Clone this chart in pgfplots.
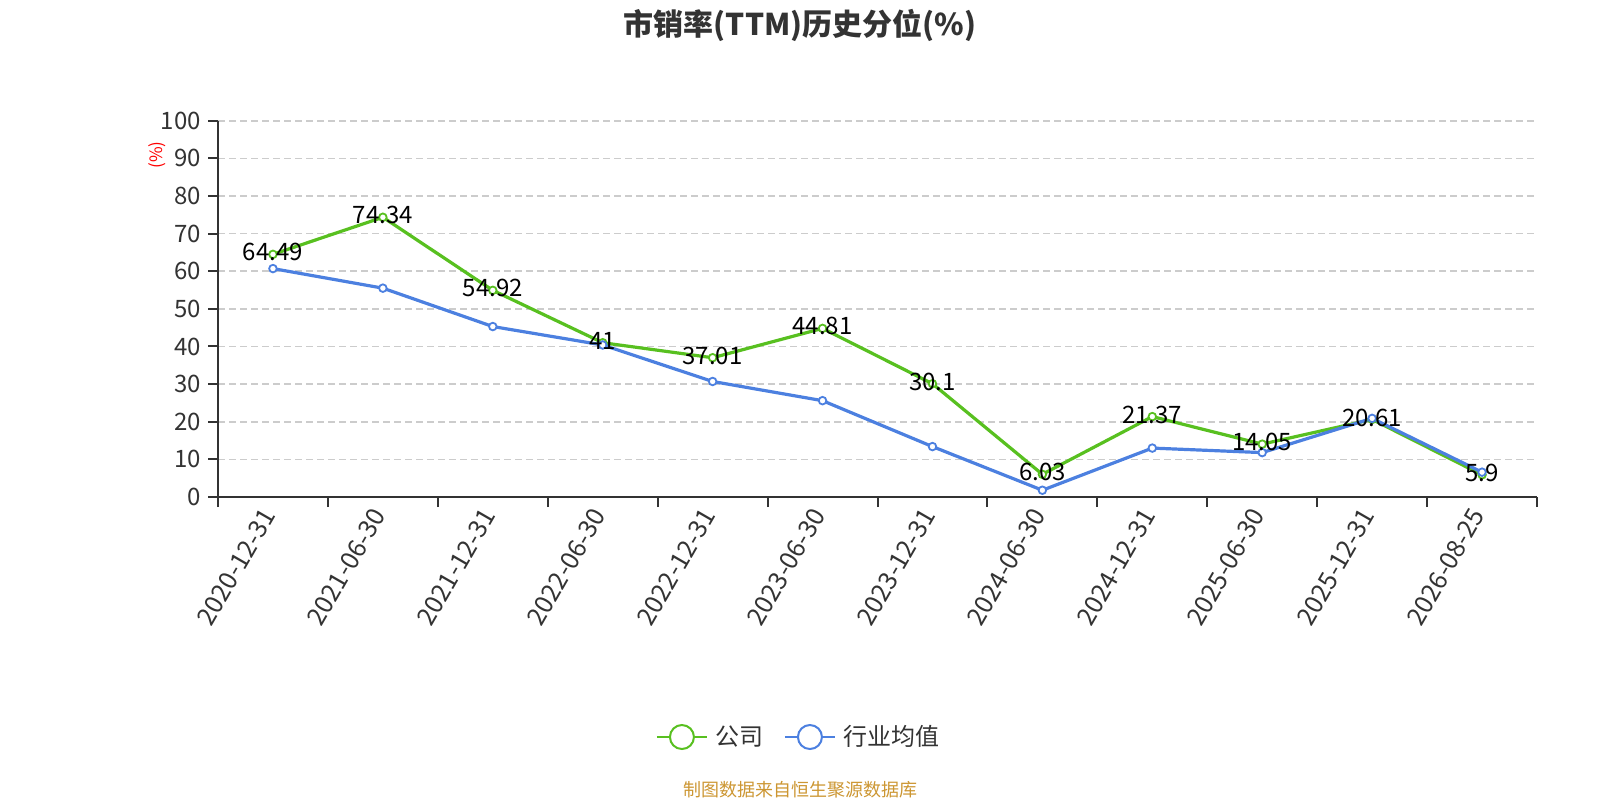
\documentclass[border=0pt]{standalone}
\usepackage{fontspec}
\setmainfont{Noto Sans CJK SC}
\usepackage{pgfplots}
\usepackage{pgfplotstable}
\pgfplotsset{compat=1.18}
\definecolor{cgreen}{RGB}{88,192,32}
\definecolor{cblue}{RGB}{76,128,224}
\definecolor{ctext}{RGB}{51,51,51}
\definecolor{cgrid}{RGB}{204,204,204}
\definecolor{csrc}{RGB}{204,150,50}

\pgfplotstableread{
x comp ind
0 64.49 60.7
1 74.34 55.5
2 54.92 45.3
3 41 40.4
4 37.01 30.7
5 44.81 25.6
6 30.1 13.4
7 6.03 1.8
8 21.37 13.0
9 14.05 11.8
10 20.61 20.9
11 5.9 6.6
}\data

\begin{document}
\begin{tikzpicture}[x=1pt,y=1pt]
\useasboundingbox (0,0) rectangle (800,400);
\begin{axis}[
  at={(109pt,151.5pt)}, anchor=south west,
  scale only axis, width=659.5pt, height=188.15pt,
  xmin=-0.5, xmax=11.5, ymin=0, ymax=100,
  axis x line*=bottom, axis y line*=left,
  axis line style={-, draw=ctext, line width=1pt},
  ytick={0,10,20,30,40,50,60,70,80,90,100},
  ymajorgrids,
  grid style={dash pattern=on 3.5pt off 2pt, line width=0.8pt, cgrid},
  tick align=outside, major tick length=5pt,
  tick style={ctext, line width=1pt},
  xtick={-0.5,0.5,1.5,2.5,3.5,4.5,5.5,6.5,7.5,8.5,9.5,10.5,11.5},
  xticklabels={},
  extra x ticks={0,1,2,3,4,5,6,7,8,9,10,11},
  extra x tick labels={2020-12-31,2021-06-30,2021-12-31,2022-06-30,2022-12-31,2023-06-30,2023-12-31,2024-06-30,2024-12-31,2025-06-30,2025-12-31,2026-08-25},
  extra x tick style={major tick length=0pt, tick style={draw=none},
    xticklabel style={rotate=60, anchor=east, inner sep=0pt, xshift=-6.8pt, yshift=-1.7pt}},
  xticklabel style={font=\fontsize{12.6}{12.6}\selectfont, text=ctext},
  yticklabel style={font=\fontsize{12}{12}\selectfont, text=ctext},
  /pgf/number format/assume math mode=true,
  legend style={at={(axis description cs:0.4412,-0.6378)}, anchor=center, draw=none,
    legend columns=2, font=\fontsize{12}{12}\selectfont, text=ctext,
    /tikz/every odd column/.append style={column sep=2pt},
    /tikz/every even column/.append style={column sep=8pt}},
  legend image code/.code={
    \draw[#1, mark=none, line width=1pt] (0pt,0pt) -- (25pt,0pt);
    \draw[#1, mark=none, line width=1pt, fill=white] (12.5pt,0pt) circle (6pt);
  },
]
\addplot[cgreen, line width=1.6pt, mark=*, mark size=1.9pt, mark options={fill=white, line width=0.9pt, solid}] table[x=x,y=comp]{\data};
\addlegendentry{公司}
\addplot[cblue, line width=1.6pt, mark=*, mark size=1.9pt, mark options={fill=white, line width=0.9pt, solid}] table[x=x,y=ind]{\data};
\addlegendentry{行业均值}
\addplot[draw=none, mark=none, forget plot, nodes near coords, point meta=explicit symbolic,
  nodes near coords style={anchor=center, yshift=1pt, font=\fontsize{12}{12}\selectfont, text=black}]
  table[x=x,y=comp,meta=comp]{\data};
\end{axis}
\node[font=\bfseries\fontsize{15}{15}\selectfont, text=ctext] at (400,387.5) {市销率(TTM)历史分位(\%)};
\node[font=\fontsize{9}{9}\selectfont, text=csrc] at (400,5) {制图数据来自恒生聚源数据库};
\node[rotate=90, text=red, font=\fontsize{8.5}{8.5}\selectfont] at (78.5,322.5) {(\%)};
\end{tikzpicture}
\end{document}
